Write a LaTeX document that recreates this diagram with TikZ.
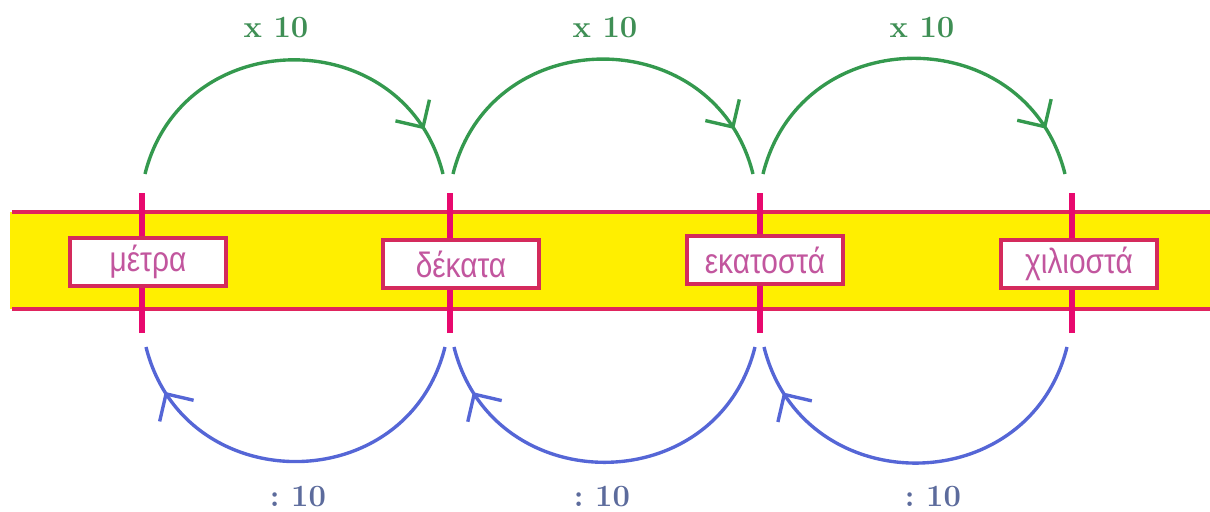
\documentclass[tikz,border=0pt]{standalone}
\usepackage{fontspec}
\usepackage{tikz}
\usetikzlibrary{arrows.meta}
\usetikzlibrary{decorations.markings}
\newfontfamily\unitfont[FakeStretch=0.85]{Liberation Sans}
\definecolor{bandred}{HTML}{E0245E}
\definecolor{tickpink}{HTML}{E8096E}
\definecolor{bandyellow}{HTML}{FFEF00}
\definecolor{boxred}{HTML}{D42A5C}
\definecolor{unittext}{HTML}{C2569E}
\definecolor{upgreen}{HTML}{34994E}
\definecolor{downblue}{HTML}{5566D6}
\definecolor{labgreen}{HTML}{3F8F55}
\definecolor{labblue}{HTML}{5C6B9C}

\begin{document}
\begin{tikzpicture}[
  tick/.style={tickpink, line width=4.2pt},
  band/.style={bandred, line width=3.5pt},
  unit/.style={draw=boxred, line width=2.8pt, fill=white, minimum width=3.9cm,
    minimum height=1.2cm, inner sep=0pt, text=unittext,
    font=\unitfont\fontsize{25}{27}\selectfont},
  upmove/.style={upgreen, line width=2.4pt, postaction={decorate},
    decoration={markings, mark=at position 0.88 with {\arrow{Straight Barb[length=5mm,width=10mm]}}}},
  downmove/.style={downblue, line width=2.4pt, postaction={decorate},
    decoration={markings, mark=at position 0.88 with {\arrow{Straight Barb[length=5mm,width=10mm]}}}},
  times/.style={text=labgreen, font=\bfseries\fontsize{22}{24}\selectfont},
  divide/.style={text=labblue, font=\bfseries\fontsize{22}{24}\selectfont}]
\useasboundingbox (0,0) rectangle (30.25,12.775);
% the band
\fill[bandyellow] (0.25,5.05) rectangle (30.25,7.475);
\draw[band] (0.3,7.475) -- (30.25,7.475);
\draw[band] (0.3,5.05) -- (30.25,5.05);
\foreach \i/\x in {1/3.55,2/11.25,3/19.0,4/26.8}{
  \draw[tick] (\x,4.45) -- (\x,7.95);
  \coordinate (u\i) at (\x,8.425);
  \coordinate (d\i) at (\x,4.1);
}
\node[unit] (metra) at (3.7,6.225) {μέτρα};
\node[unit] (dekata) at (11.525,6.175) {δέκατα};
\node[unit] (ekatosta) at (19.125,6.275) {εκατοστά};
\node[unit] (xiliosta) at (26.975,6.175) {χιλιοστά};
% arcs
\foreach \a/\b in {1/2,2/3,3/4}{
  \draw[upmove] ([xshift=0.075cm]u\a) to[out=76,in=104,looseness=1.35] ([xshift=-0.175cm]u\b);
  \draw[downmove] ([xshift=-0.125cm]d\b) to[out=-104,in=-76,looseness=1.35] ([xshift=0.1cm]d\a);
}
\node[times] (up1) at (6.9,12.075) {x\ 10};
\node[times] (up2) at (15.125,12.075) {x\ 10};
\node[times] (up3) at (23.05,12.075) {x\ 10};
\node[divide] (down1) at (7.45,0.35) {:\ 10};
\node[divide] (down2) at (15.05,0.35) {:\ 10};
\node[divide] (down3) at (23.325,0.35) {:\ 10};
\end{tikzpicture}
\end{document}
